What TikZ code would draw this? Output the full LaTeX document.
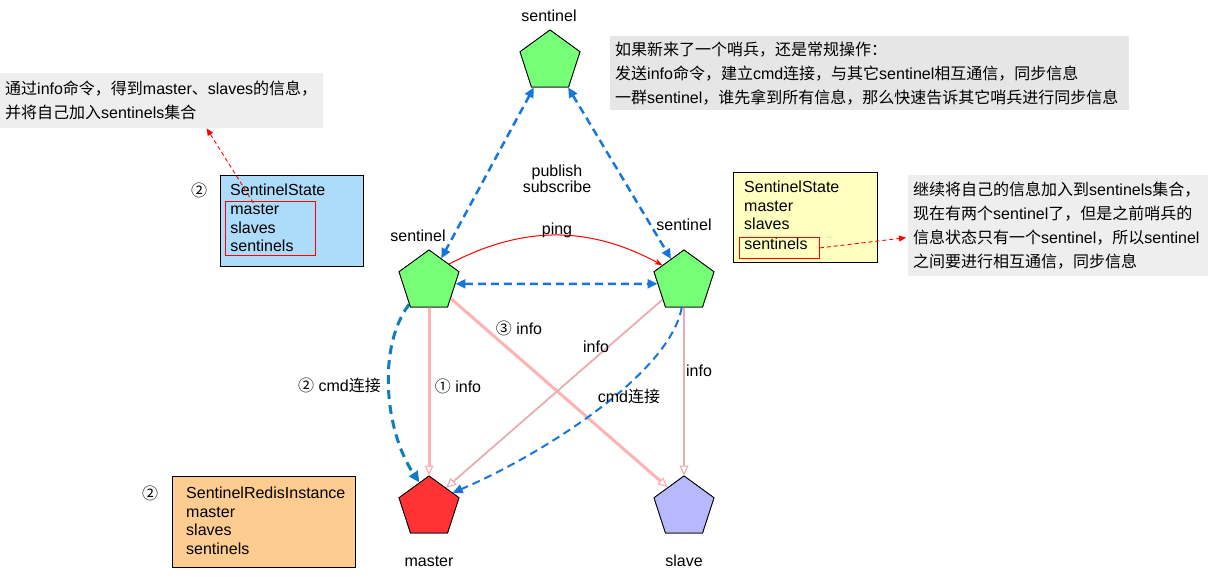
\documentclass[tikz,border=0pt]{standalone}
\usepackage{fontspec}
\setmainfont{Liberation Sans}
\newfontfamily\cjk{Noto Sans CJK SC}
\newcommand{\zh}[1]{{\cjk #1}}
\usetikzlibrary{shapes.geometric,arrows.meta,calc}
\definecolor{pgreen}{RGB}{118,255,118}
\definecolor{pred}{RGB}{255,51,51}
\definecolor{pslave}{RGB}{184,184,255}
\definecolor{lblue}{RGB}{172,220,249}
\definecolor{lyellow}{RGB}{255,255,192}
\definecolor{lorange}{RGB}{252,204,144}
\definecolor{gA}{RGB}{238,238,238}
\definecolor{gB}{RGB}{230,230,230}
\definecolor{dblue}{RGB}{22,118,222}
\definecolor{tblue}{RGB}{16,126,190}
\definecolor{pinkA}{RGB}{255,178,178}
\definecolor{pinkB}{RGB}{232,172,178}
\tikzset{
  pent/.style={regular polygon, regular polygon sides=5, minimum size=63, inner sep=0, draw=black, line width=0.8},
  lab/.style={font=\fontsize{16}{19}\selectfont, inner sep=0},
  gtext/.style={anchor=north west, inner xsep=5, inner ysep=0, align=left, font=\fontsize{16}{24}\selectfont},
  listtext/.style={font=\fontsize{16}{18.5}\selectfont, align=left},
  bdash/.style={dblue, line width=2.5, dash pattern=on 8pt off 5pt, {Triangle[length=10pt,width=9pt]}-{Triangle[length=10pt,width=9pt]}},
  pinkline/.style={line width=3, -{Triangle[open,length=10pt,width=9pt,line width=1.3pt]}},
  reddash/.style={red, line width=0.9, dash pattern=on 4pt off 3pt, -{Triangle[length=7pt,width=6pt]}}
}
\begin{document}
\begin{tikzpicture}[x=1pt,y=-1pt]
\useasboundingbox (0,0) rectangle (1209,576);

% gray note boxes
\node[gtext, fill=gA, text width=313, minimum height=55] (g1) at (0,73)
 {\zh{通过}info\zh{命令，得到}master\zh{、}slaves\zh{的信息，}\\\zh{并将自己加入}sentinels\zh{集合}};
\node[gtext, fill=gB, text width=509, minimum height=74] (g2) at (610,36)
 {\zh{如果新来了一个哨兵，还是常规操作：}\\\zh{发送}info\zh{命令，建立}cmd\zh{连接，与其它}sentinel\zh{相互通信，同步信息}\\\zh{一群}sentinel\zh{，谁先拿到所有信息，那么快速告诉其它哨兵进行同步信息}};
\node[gtext, fill=gA, text width=290, minimum height=101] (g3) at (908,175)
 {\zh{继续将自己的信息加入到}sentinels\zh{集合，}\\\zh{现在有两个}sentinel\zh{了，但是之前哨兵的}\\\zh{信息状态只有一个}sentinel\zh{，所以}sentinel\\\zh{之间要进行相互通信，同步信息}};

% SentinelState (blue)
\node[draw, line width=0.8, fill=lblue, minimum width=143, minimum height=91, anchor=north west, inner sep=0] (ssb) at (220,175) {};
\node[lab, anchor=west] (sst) at (230,190) {SentinelState};
\node[listtext, draw=red, line width=0.8, anchor=north west, minimum width=90, minimum height=54, text width=80, inner xsep=5, inner ysep=0] (sin) at (225,201) {master\\slaves\\sentinels};
\node[lab] (c2a) at (199,190) {\zh{②}};

% SentinelState (yellow)
\node[draw, line width=0.8, fill=lyellow, minimum width=144, minimum height=90, anchor=north west, inner sep=0] (ysb) at (733,172) {};
\node[listtext, anchor=west, inner sep=0] (ytx) at (744,205.5) {SentinelState\\master\\slaves};
\node[draw=red, line width=0.8, anchor=north west, minimum width=80, text width=70, inner xsep=5, inner ysep=1, text height=11, text depth=8, align=left, font=\fontsize{16}{19}\selectfont] (ysent) at (739,237) {sentinels};

% SentinelRedisInstance (orange)
\node[draw, line width=0.8, fill=lorange, minimum width=183, minimum height=91, anchor=north west, inner sep=0] (orb) at (172,476) {};
\node[listtext, anchor=west, inner sep=0] (otx) at (186,521) {SentinelRedisInstance\\master\\slaves\\sentinels};
\node[lab] (c2b) at (150,493) {\zh{②}};

% pentagon positions
\node[pent, fill=pgreen] (st) at (550,61.5) {};
\node[pent, fill=pgreen] (sl) at (429,281.5) {};
\node[pent, fill=pgreen] (sr) at (684,281.5) {};
\node[pent, fill=pred] (ma) at (429,507.5) {};
\node[pent, fill=pslave] (sv) at (684,507.5) {};

% pink info lines
\draw[pinkline, pinkA] (sl.south) -- (ma.north);
\draw[pinkline, pinkA] (sl.-38) -- (sv.129);
\draw[pinkB, line width=1.8, -{Triangle[open,length=10pt,width=9pt,line width=1.1pt]}] (sr.-140) -- (ma.49);
\draw[pinkB, line width=1.8, -{Triangle[open,length=10pt,width=9pt,line width=1.1pt]}] (sr.south) -- (sv.north);

% blue cmd connections
\draw[tblue, line width=3, dash pattern=on 9pt off 6pt, -{Triangle[length=11pt,width=10pt]}] (sl.-131.5) .. controls +(-32,42) and +(-35,-52) .. (ma.111);
\draw[dblue, line width=2, dash pattern=on 8pt off 5pt, -{Triangle[length=10pt,width=9pt]}] (sr.-95) .. controls +(-12,68) and +(83,-35) .. (ma.32);

% publish/subscribe
\draw[bdash] (st.-122.7) -- (sl.62);
\draw[bdash] (st.-55.8) -- (sr.120);
\draw[bdash] (sl.-5) -- (sr.185);

% ping
\draw[red, line width=1, -{Stealth[length=8pt,width=6pt]}] (sl.41) to[bend left=28] (sr.143);

% redraw pentagons on top
\node[pent, fill=pgreen] at (st) {};
\node[pent, fill=pgreen] at (sl) {};
\node[pent, fill=pgreen] at (sr) {};
\node[pent, fill=pred] at (ma) {};
\node[pent, fill=pslave] at (sv) {};

% notes arrows
\draw[reddash] ($(sin.north)+(-17,2)$) -- ($(g1.south)+(45,0)$);
\draw[reddash] (ysent.east) -- ($(g3.west)+(-2,12)$);

% labels
\node[lab] (lst) at (549,16) {sentinel};
\node[lab] (lsl) at (418,236) {sentinel};
\node[lab] (lsr) at (684,225) {sentinel};
\node[lab] (lma) at (429,561) {master};
\node[lab] (lsv) at (684,561) {slave};
\node[lab, align=center, font=\fontsize{16}{14}\selectfont] (ps) at (557,179) {publish\\subscribe};
\node[lab] (lping) at (557,230) {ping};
\node[lab] (l1) at (458,386) {\zh{①} info};
\node[lab] (l3) at (519,328.5) {\zh{③} info};
\node[lab] (li1) at (596,346.5) {info};
\node[lab] (li2) at (699,370.5) {info};
\node[lab] (lc1) at (339.5,385.5) {\zh{②} cmd\zh{连接}};
\node[lab] (lc2) at (629,396) {cmd\zh{连接}};
\end{tikzpicture}
\end{document}
